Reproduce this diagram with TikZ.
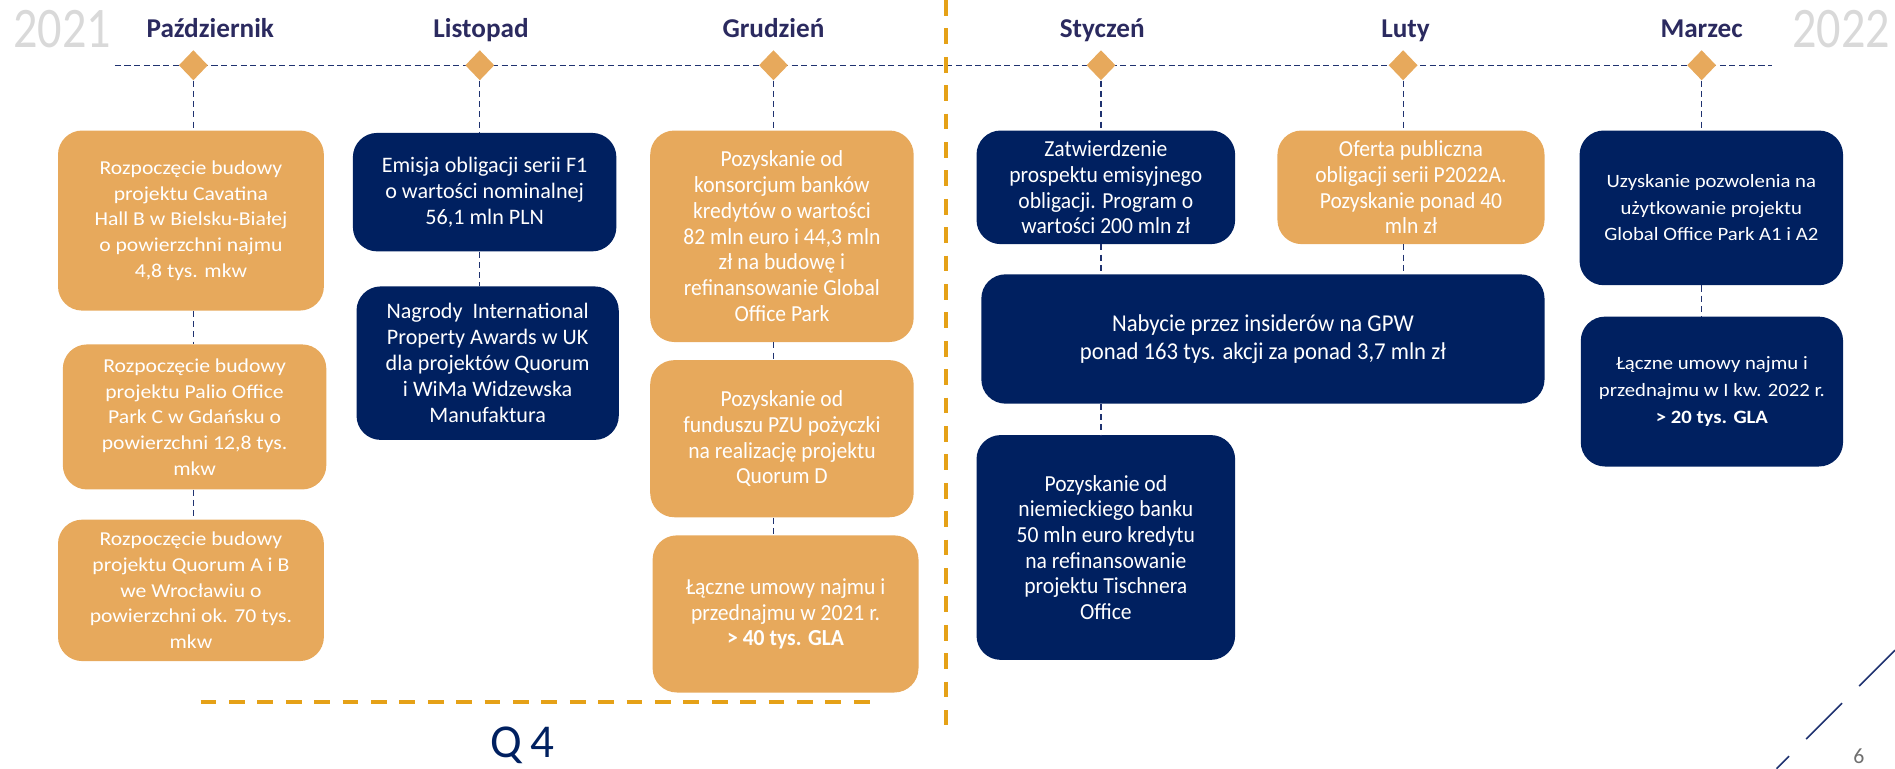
\documentclass[tikz,border=0pt]{standalone}
\usepackage{fontspec}
\setmainfont{Carlito}
\newfontfamily\widefont[FakeStretch=1.1]{Carlito}
\newfontfamily\narrowfont[FakeStretch=0.94]{Carlito}
\newfontfamily\yearfont[FakeStretch=0.84]{Carlito}
\usetikzlibrary{shapes.geometric}
\definecolor{orng}{HTML}{E7A95C}
\definecolor{navy}{HTML}{002060}
\definecolor{mon}{HTML}{2B2A5F}
\definecolor{gold}{HTML}{E5A117}
\definecolor{yr}{HTML}{D9D9D9}
\definecolor{tl}{HTML}{1F3270}
\definecolor{pg}{HTML}{6F6F6F}
\tikzset{
  card/.style={rounded corners=20pt, align=center, text=white, inner sep=0pt},
  obox/.style={card, fill=orng},
  nbox/.style={card, fill=navy},
  twide/.style={font=\widefont\fontsize{16.3}{21.3}\selectfont},
  twidesm/.style={font=\widefont\fontsize{15.6}{22}\selectfont},
  tnorm/.style={font=\fontsize{18.3}{21.5}\selectfont},
  tnarrow/.style={font=\narrowfont\fontsize{19}{21.3}\selectfont},
  tnarrowbig/.style={font=\narrowfont\fontsize{20}{23}\selectfont},
  dia/.style={diamond, fill=orng, minimum width=24pt, minimum height=25pt, inner sep=0pt},
  month/.style={text=mon, anchor=base, font=\fontsize{22.5}{24}\selectfont\bfseries},
  year/.style={text=yr, anchor=base, font=\yearfont\fontsize{47.5}{50}\selectfont},
  conn/.style={draw=tl, line width=1pt, dash pattern=on 5pt off 3.5pt},
  timeline/.style={draw=tl, line width=1.2pt, dash pattern=on 5pt off 3pt},
  golddash/.style={draw=gold, line width=3.3pt, dash pattern=on 13pt off 10.5pt},
  diag/.style={draw=tl, line width=1.4pt, dash pattern=on 42pt off 20pt}
}
\begin{document}
\begin{tikzpicture}[x=1pt,y=-1pt]
\useasboundingbox (0,0) rectangle (1568,636);
% year labels
\node[year, anchor=base west, inner sep=0pt] (y21) at (11,39) {2021};
\node[year, anchor=base east, inner sep=0pt] (y22) at (1564,39) {2022};
% months
\node[month] (m1) at (174,31) {Październik};
\node[month] (m2) at (398,31) {Listopad};
\node[month] (m3) at (640,31) {Grudzień};
\node[month] (m4) at (912,31) {Styczeń};
\node[month] (m5) at (1163,31) {Luty};
\node[month] (m6) at (1408,31) {Marzec};
% timeline
\coordinate (tlL) at (95,54);
\coordinate (tlR) at (1466,54);
\draw[timeline] (tlL) -- (tlR);
% divider
\coordinate (dvT) at (783,0);
\coordinate (dvB) at (783,600);
\draw[golddash] (dvT) -- (dvB);
% diamonds
\node[dia] (d1) at (160,54) {};
\node[dia] (d2) at (397,54) {};
\node[dia] (d3) at (640,54) {};
\node[dia] (d4) at (911,54) {};
\node[dia] (d5) at (1161,54) {};
\node[dia] (d6) at (1408,54) {};
% column 1
\node[obox, twide, minimum width=220pt, minimum height=149pt] (b11) at (158,182.5) {Rozpoczęcie budowy\\projektu Cavatina\\Hall B w Bielsku-Białej\\o powierzchni najmu\\4,8 tys. mkw};
\node[obox, twide, minimum width=218pt, minimum height=120pt] (b12) at (161,345) {Rozpoczęcie budowy\\projektu Palio Office\\Park C w Gdańsku o\\powierzchni 12,8 tys.\\mkw};
\node[obox, twide, minimum width=220pt, minimum height=117pt] (b13) at (158,488.5) {Rozpoczęcie budowy\\projektu Quorum A i B\\we Wrocławiu o\\powierzchni ok. 70 tys.\\mkw};
% column 2
\node[nbox, tnorm, minimum width=218pt, minimum height=98pt] (b21) at (401,159) {Emisja obligacji serii F1\\o wartości nominalnej\\56,1 mln PLN};
\node[nbox, tnorm, minimum width=217pt, minimum height=127pt] (b22) at (403.5,300.5) {Nagrody\ \ International\\Property Awards w UK\\dla projektów Quorum\\i WiMa Widzewska\\Manufaktura};
% column 3
\node[obox, tnarrow, minimum width=218pt, minimum height=175pt] (b31) at (647,195.5) {Pozyskanie od\\konsorcjum banków\\kredytów o wartości\\82 mln euro i 44,3 mln\\zł na budowę i\\refinansowanie Global\\Office Park};
\node[obox, tnarrow, minimum width=218pt, minimum height=130pt] (b32) at (647,363) {Pozyskanie od\\funduszu PZU pożyczki\\na realizację projektu\\Quorum D};
\node[obox, tnarrow, minimum width=220pt, minimum height=130pt] (b33) at (650,508) {Łączne umowy najmu i\\przednajmu w 2021 r.\\\textbf{> 40 tys. GLA}};
% column 4/5
\node[nbox, tnarrow, minimum width=214pt, minimum height=94pt] (b41) at (915,155) {Zatwierdzenie\\prospektu emisyjnego\\obligacji. Program o\\wartości 200 mln zł};
\node[obox, tnarrow, minimum width=221pt, minimum height=94pt] (b51) at (1167.5,155) {Oferta publiczna\\obligacji serii P2022A.\\Pozyskanie ponad 40\\mln zł};
\node[nbox, tnarrowbig, minimum width=466pt, minimum height=107pt] (bw) at (1045,280.5) {Nabycie przez insiderów na GPW\\ponad 163 tys. akcji za ponad 3,7 mln zł};
\node[nbox, tnarrow, minimum width=214pt, minimum height=186pt] (b43) at (915,453) {Pozyskanie od\\niemieckiego banku\\50 mln euro kredytu\\na refinansowanie\\projektu Tischnera\\Office};
% column 6
\node[nbox, twidesm, minimum width=218pt, minimum height=128pt] (b61) at (1416,172) {Uzyskanie pozwolenia na\\użytkowanie projektu\\Global Office Park A1 i A2};
\node[nbox, twidesm, minimum width=217pt, minimum height=124pt] (b62) at (1416.5,324) {Łączne umowy najmu i\\przednajmu w I kw. 2022 r.\\\textbf{> 20 tys. GLA}};
% connectors
\draw[conn] (d1.south) -- (d1 |- b11.north);
\draw[conn] (d1 |- b11.south) -- (d1 |- b12.north);
\draw[conn] (d1 |- b12.south) -- (d1 |- b13.north);
\draw[conn] (d2.south) -- (d2 |- b21.north);
\draw[conn] (d2 |- b21.south) -- (d2 |- b22.north);
\draw[conn] (d3.south) -- (d3 |- b31.north);
\draw[conn] (d3 |- b31.south) -- (d3 |- b32.north);
\draw[conn] (d3 |- b32.south) -- (d3 |- b33.north);
\draw[conn] (d4.south) -- (d4 |- b41.north);
\draw[conn] (d4 |- b41.south) -- (d4 |- bw.north);
\draw[conn] (d4 |- bw.south) -- (d4 |- b43.north);
\draw[conn] (d5.south) -- (d5 |- b51.north);
\draw[conn] (d5 |- b51.south) -- (d5 |- bw.north);
\draw[conn] (d6.south) -- (d6 |- b61.north);
\draw[conn] (d6 |- b61.south) -- (d6 |- b62.north);
% bottom quarter line
\coordinate (qL) at (166,581);
\coordinate (qR) at (729,581);
\draw[golddash] (qL) -- (qR);
\node[text=navy, anchor=base, font=\fontsize{39}{41}\selectfont] (q4) at (432,627) {Q\hspace{7pt}4};
% page number and diagonal
\node[text=pg, anchor=base, font=\fontsize{18}{20}\selectfont] (pn) at (1538,632) {6};
\coordinate (dgA) at (1568,538);
\coordinate (dgB) at (1470,636);
\draw[diag] (dgA) -- (dgB);
\end{tikzpicture}
\end{document}
